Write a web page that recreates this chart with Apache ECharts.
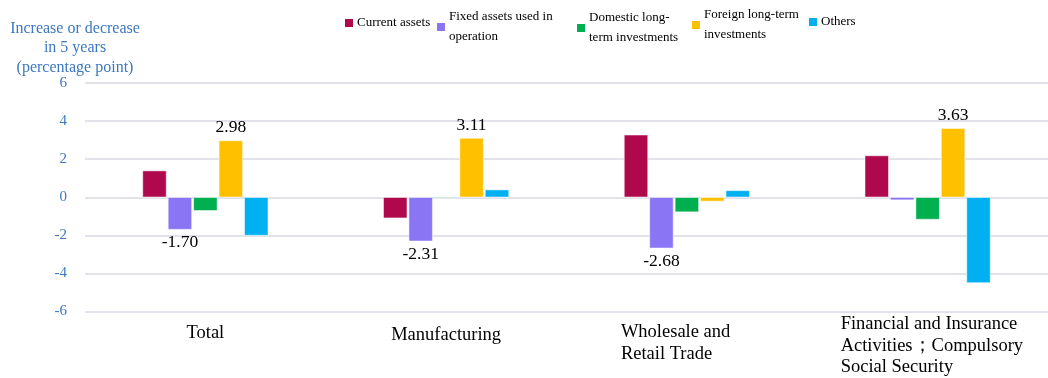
<!DOCTYPE html>
<html><head><meta charset="utf-8">
<script src="https://cdn.jsdelivr.net/npm/echarts@6/dist/echarts.min.js"></script>
<style>html,body{margin:0;padding:0;background:#fff}#c{width:1048px;height:378px}</style>
</head><body><div id="c"></div>
<script>
const categories = ["Total", "Manufacturing", "Wholesale and\nRetail Trade", "Financial and Insurance\nActivities；Compulsory\nSocial Security"];
const seriesNames = ["Current assets", "Fixed assets used in\noperation", "Domestic long-\nterm investments", "Foreign long-term\ninvestments", "Others"];
const currentAssets = [1.40, -1.10, 3.28, 2.19];
const fixedAssets = [-1.70, -2.31, -2.68, -0.15];
const domesticInv = [-0.71, -0.05, -0.78, -1.17];
const foreignInv = [2.98, 3.11, -0.22, 3.63];
const others = [-2.01, 0.40, 0.36, -4.50];
const yTicks = [-6, -4, -2, 0, 2, 4, 6];
const labelledFixed = [0, 1, 2];
const labelledForeign = [0, 1, 3];

const colors = ["#B0084C", "#8A75F5", "#00B050", "#FFC000", "#00B0F0"];
const serif = "Liberation Serif";
const allValues = [currentAssets, fixedAssets, domesticInv, foreignInv, others];
const labelSets = [[], labelledFixed, [], labelledForeign, []];

const series = allValues.map((vals, si) => ({
  name: seriesNames[si],
  type: "bar",
  barWidth: 24,
  barGap: "6%",
  itemStyle: { color: colors[si], borderColor: "#fff", borderWidth: 0.5 },
  data: vals.map((v, i) => ({
    value: v,
    label: {
      show: labelSets[si].includes(i),
      position: v >= 0 ? "top" : "bottom",
      distance: 4,
      formatter: p => p.value.toFixed(2),
      fontFamily: serif, fontSize: 17.5, color: "#000"
    }
  }))
}));

const legendPos = [
  { left: 343, top: 13 },
  { left: 435, top: 7 },
  { left: 575, top: 8 },
  { left: 690, top: 5 },
  { left: 807, top: 12 }
];
const legends = seriesNames.map((n, i) => ({
  data: [n], left: legendPos[i].left, top: legendPos[i].top,
  padding: 0, itemWidth: 10, itemHeight: 10, icon: "rect", itemGap: 0,
  selectedMode: false,
  textStyle: { fontFamily: serif, fontSize: 13, lineHeight: 20, color: "#000", padding: [0, 0, 0, -2] }
}));

const catPad = [9, 11, 8, 0];
const catW = [null, null, 132, 188];
const catLeftPad = [0, 0, 0, 14];
const rich = {};
categories.forEach((c, i) => {
  rich["c" + i] = { fontFamily: serif, fontSize: 18.5, lineHeight: 21.5, color: "#000", align: "left", padding: [0, 0, 0, catLeftPad[i]] };
  if (catW[i]) rich["c" + i].width = catW[i];
  rich["p" + i] = { height: catPad[i], lineHeight: catPad[i], fontSize: 1 };
});

const chart = echarts.init(document.getElementById("c"));
chart.setOption({
  animation: false,
  color: colors,
  title: {
    text: "Increase or decrease\nin 5 years\n(percentage point)",
    left: 75, top: 19, textAlign: "center", padding: 0,
    textStyle: { fontFamily: serif, fontSize: 16, fontWeight: "normal", color: "#3C78C0", lineHeight: 19.5 }
  },
  legend: legends,
  grid: { left: 85, right: 0, top: 83, bottom: 63, containLabel: false },
  xAxis: {
    type: "category", data: categories,
    axisLine: { show: false }, axisTick: { show: false },
    axisLabel: {
      interval: 0, margin: 2,
      fontFamily: serif, fontSize: 18.5, color: "#000", lineHeight: 21.5,
      verticalAlign: "top",
      formatter: (v, i) => {
        const lines = v.split("\n").map(l => "{c" + i + "|" + l + "}");
        const pre = catPad[i] ? "{p" + i + "|}\n" : "";
        return pre + lines.join("\n");
      },
      rich: rich
    }
  },
  yAxis: {
    type: "value", min: -6, max: 6, interval: 2,
    axisLine: { show: false }, axisTick: { show: false },
    splitLine: { lineStyle: { color: "#D9D9E3", width: 1.5 } },
    axisLabel: {
      margin: 18, fontFamily: serif, fontSize: 15, color: "#3C78C0",
      formatter: v => yTicks.includes(v) ? String(v) : ""
    }
  },
  series: series
});
</script></body></html>
